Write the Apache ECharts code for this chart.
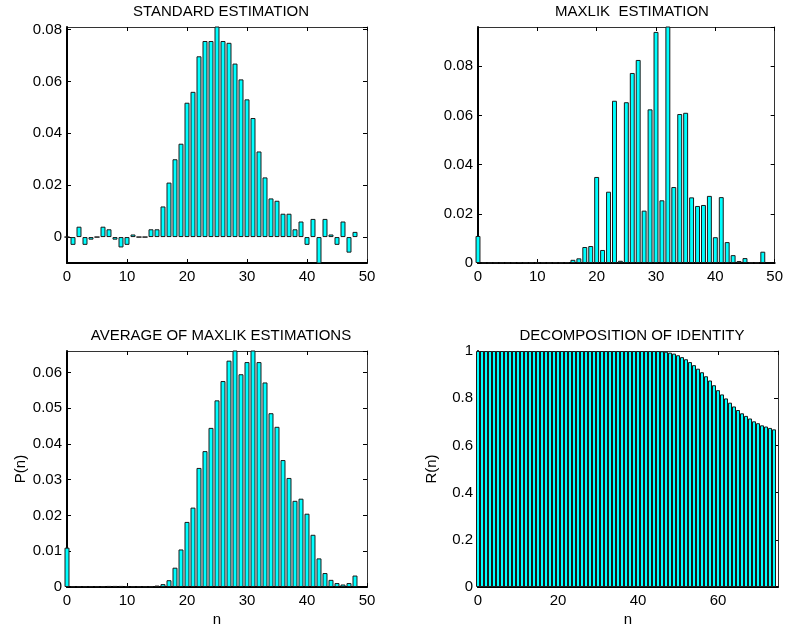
<!DOCTYPE html>
<html>
<head>
<meta charset="utf-8">
<style>
  html, body { margin: 0; padding: 0; background: #fff; }
  #chart { width: 786px; height: 635px; }
</style>
<script src="https://cdn.jsdelivr.net/npm/echarts@6/dist/echarts.min.js"></script>
</head>
<body>
<div id="chart"></div>
<script>
// Photon-number bins for the three estimation panels
const nBins = [0, 1, 2, 3, 4, 5, 6, 7, 8, 9, 10, 11, 12, 13, 14, 15, 16, 17, 18, 19,
  20, 21, 22, 23, 24, 25, 26, 27, 28, 29, 30, 31, 32, 33, 34, 35, 36, 37, 38, 39,
  40, 41, 42, 43, 44, 45, 46, 47, 48];

// Bins for the identity decomposition panel
const nIdentity = [0, 1, 2, 3, 4, 5, 6, 7, 8, 9, 10, 11, 12, 13, 14, 15, 16, 17, 18, 19,
  20, 21, 22, 23, 24, 25, 26, 27, 28, 29, 30, 31, 32, 33, 34, 35, 36, 37, 38, 39,
  40, 41, 42, 43, 44, 45, 46, 47, 48, 49, 50, 51, 52, 53, 54, 55, 56, 57, 58, 59,
  60, 61, 62, 63, 64, 65, 66, 67, 68, 69, 70, 71, 72, 73, 74];

const standardEst = [0, -0.003, 0.004, -0.003, -0.001, 0, 0.004, 0.003, -0.001, -0.004,
  -0.003, 0.001, 0, 0, 0.003, 0.003, 0.0118, 0.021, 0.030, 0.036,
  0.0518, 0.056, 0.0697, 0.0756, 0.0756, 0.083, 0.0756, 0.0749, 0.0669, 0.0608,
  0.0531, 0.0459, 0.033, 0.023, 0.0149, 0.014, 0.009, 0.009, 0.003, 0.006,
  -0.003, 0.007, -0.012, 0.007, 0.001, -0.003, 0.006, -0.006, 0.002];

const maxlikEst = [0.011, 0.0001, 0.0001, 0.0001, 0.0001, 0.0001, 0.0002, 0.0004, 0.0002, 0.0002,
  0.0001, 0.0002, 0.0001, 0.0002, 0.0002, 0.0003, 0.0013, 0.0019, 0.0065, 0.0069,
  0.035, 0.0053, 0.029, 0.066, 0.0009, 0.0654, 0.0773, 0.0826, 0.0213, 0.0625,
  0.094, 0.0255, 0.098, 0.0309, 0.0606, 0.0611, 0.0267, 0.0232, 0.0236, 0.0273,
  0.0105, 0.0268, 0.0085, 0.0032, 0.0008, 0.002, 0.0002, 0.0002, 0.0046];

const averageEst = [0.011, 0.0002, 0.0002, 0.0002, 0.0002, 0.0002, 0.0002, 0.0003, 0.0003, 0.0003,
  0.0002, 0.0002, 0.0002, 0.0002, 0.0002, 0.0004, 0.0008, 0.0019, 0.0054, 0.0105,
  0.0182, 0.0222, 0.0333, 0.038, 0.0445, 0.0522, 0.0576, 0.0633, 0.067, 0.0595,
  0.0629, 0.0662, 0.0629, 0.0572, 0.0486, 0.0448, 0.0355, 0.0305, 0.0241, 0.0247,
  0.0205, 0.0146, 0.008, 0.0039, 0.002, 0.0011, 0.0007, 0.0011, 0.0032];

const identityR = [1, 1, 1, 1, 1, 1, 1, 1, 1, 1, 1, 1, 1, 1, 1, 1, 1, 1, 1, 1,
  1, 1, 1, 1, 1, 1, 1, 1, 1, 1, 1, 1, 1, 1, 1, 1, 1, 1, 1, 1,
  1, 1, 1, 1, 1, 1, 0.999, 0.997, 0.993, 0.989, 0.982, 0.974, 0.965, 0.953, 0.940, 0.925,
  0.910, 0.893, 0.875, 0.855, 0.834, 0.816, 0.799, 0.781, 0.765, 0.750,
  0.736, 0.725, 0.714, 0.702, 0.694, 0.685, 0.680, 0.674, 0.668];

const panelTitles = ['STANDARD ESTIMATION', 'MAXLIK  ESTIMATION',
  'AVERAGE OF MAXLIK ESTIMATIONS', 'DECOMPOSITION OF IDENTITY'];

const FONT = '"Liberation Sans", Arial, Helvetica, sans-serif';
const FS = 15;

const panels = [
  { grid: { left: 67, top: 27, width: 300, height: 236 }, n: nBins, v: standardEst,
    x: { min: 0, max: 50, interval: 10 }, y: { min: -0.01, max: 0.081, splitNumber: 5 },
    titleX: 216, titleY: -1, barWidth: '83%' },
  { grid: { left: 478, top: 27, width: 300, height: 236 }, n: nBins, v: maxlikEst,
    x: { min: 0, max: 50, interval: 10 }, y: { min: 0, max: 0.096, interval: 0.02 },
    titleX: 627, titleY: -1, barWidth: '83%' },
  { grid: { left: 67, top: 351, width: 300, height: 236 }, n: nBins, v: averageEst,
    x: { min: 0, max: 50, interval: 10 }, y: { min: 0, max: 0.066, interval: 0.01 },
    titleX: 216, titleY: 323, xName: 'n', yName: 'P(n)', barWidth: '83%' },
  { grid: { left: 478, top: 351, width: 300, height: 236 }, n: nIdentity, v: identityR,
    x: { min: 0, max: 75, interval: 20 }, y: { min: 0, max: 1, interval: 0.2 },
    titleX: 627, titleY: 323, xName: 'n', yName: 'R(n)', barWidth: '100%' }
];

const option = {
  animation: false,
  backgroundColor: '#fff',
  textStyle: { fontFamily: FONT },
  title: [],
  grid: [],
  xAxis: [],
  yAxis: [],
  series: []
};

panels.forEach((p, i) => {
  option.title.push({
    text: panelTitles[i], left: p.titleX, top: p.titleY, textAlign: 'center',
    textStyle: { fontFamily: FONT, fontSize: FS, fontWeight: 'normal', color: '#000' }
  });
  option.grid.push(Object.assign({ containLabel: false }, p.grid));

  const tick = { show: true, inside: true, length: 4, lineStyle: { color: '#000', width: 1 } };
  const label = { fontFamily: FONT, fontSize: FS, color: '#000' };

  // bottom / left: labelled axes
  option.xAxis.push(Object.assign({
    type: 'value', gridIndex: i, position: 'bottom',
    axisLine: { show: true, onZero: false, lineStyle: { color: '#000', width: 2 } },
    axisTick: tick, splitLine: { show: false },
    axisLabel: Object.assign({ margin: 6, showMinLabel: true, showMaxLabel: p.x.max % p.x.interval === 0 }, label),
    name: p.xName || '', nameLocation: 'middle', nameGap: 25,
    nameTextStyle: { fontFamily: FONT, fontSize: FS, color: '#000' }
  }, p.x));
  // top: plain frame edge with ticks
  option.xAxis.push(Object.assign({
    type: 'value', gridIndex: i, position: 'top',
    axisLine: { show: true, onZero: false, lineStyle: { color: '#333', width: 1 } },
    axisTick: tick, splitLine: { show: false }, axisLabel: { show: false }
  }, p.x));

  option.yAxis.push(Object.assign({
    type: 'value', gridIndex: i, position: 'left',
    axisLine: { show: true, onZero: false, lineStyle: { color: '#000', width: 2 } },
    axisTick: tick, splitLine: { show: false },
    axisLabel: Object.assign({ margin: 5, showMinLabel: p.y.min === 0, showMaxLabel: p.y.max === 1 }, label),
    name: p.yName || '', nameLocation: 'middle', nameGap: 39,
    nameTextStyle: { fontFamily: FONT, fontSize: FS, color: '#000' }
  }, p.y));
  option.yAxis.push(Object.assign({
    type: 'value', gridIndex: i, position: 'right',
    axisLine: { show: true, onZero: false, lineStyle: { color: '#333', width: 1 } },
    axisTick: tick, splitLine: { show: false }, axisLabel: { show: false }
  }, p.y));

  option.series.push({
    type: 'bar',
    xAxisIndex: 2 * i, yAxisIndex: 2 * i,
    barWidth: p.barWidth,
    clip: true,
    itemStyle: { color: '#00ffff', borderColor: '#1a1a1a', borderWidth: 1 },
    data: p.n.map((n, k) => [n, p.v[k]])
  });
});

const chart = echarts.init(document.getElementById('chart'), null, { renderer: 'canvas' });
chart.setOption(option);
</script>
</body>
</html>
